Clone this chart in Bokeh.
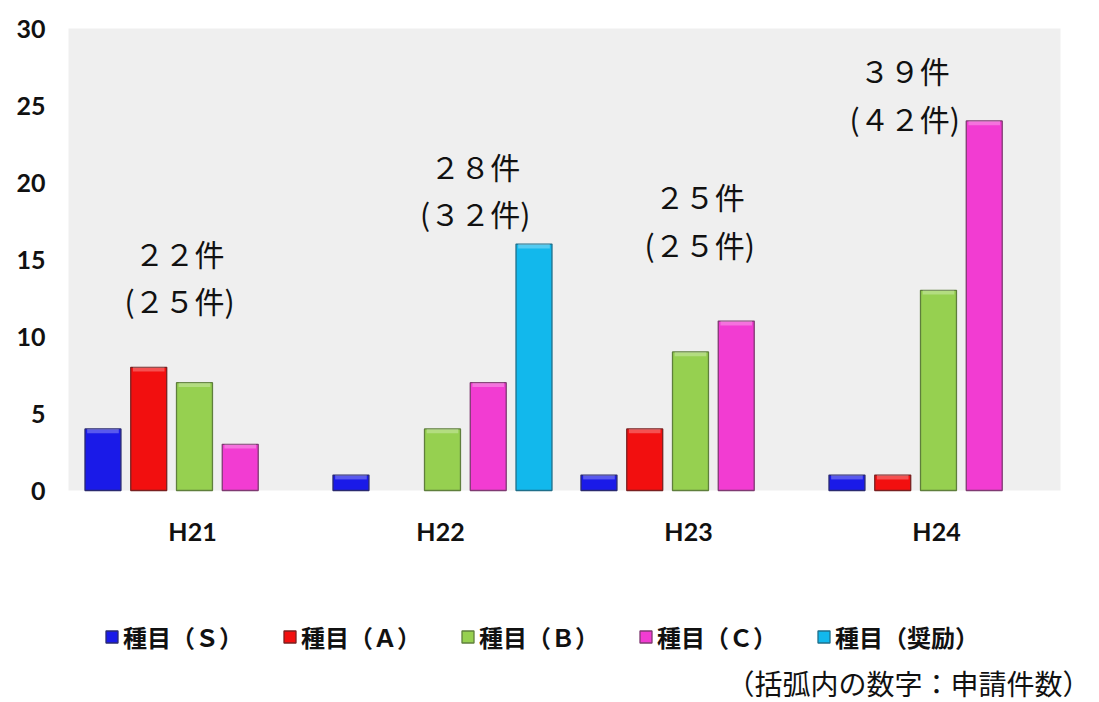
from bokeh.plotting import figure
from bokeh.models import Range1d, Legend, LegendItem, Label, ColumnDataSource
from bokeh.core.properties import value
from bokeh.embed import file_html
from bokeh.resources import INLINE

years = ["H21", "H22", "H23", "H24"]
series_names = ["種目（Ｓ）", "種目（Ａ）", "種目（Ｂ）", "種目（Ｃ）", "種目（奨励）"]
s_vals = [4, 1, 1, 1]
a_vals = [8, 0, 4, 1]
b_vals = [7, 4, 9, 13]
c_vals = [3, 7, 11, 24]
sh_vals = [0, 16, 0, 0]
adopted_labels = ["２２件", "２８件", "２５件", "３９件"]
applied_labels = ["(２５件)", "(３２件)", "(２５件)", "(４２件)"]
adopted_y = [15.45, 21.1, 19.15, 27.3]
applied_y = [12.4, 18.05, 16.0, 24.2]
y_ticks = [0, 5, 10, 15, 20, 25, 30]
note_text = "（括弧内の数字：申請件数）"

# ---- layout constants (pixels) ----
W, H = 1099, 702
FX0, FX1 = 68, 1060      # grey plot area left/right
FY_TOP, FY_BOT = 28, 490  # grey plot area top/bottom (y=30 / y=0)
n = len(years)
ymax = max(y_ticks)
px_per_x = (FX1 - FX0) / n
px_per_y = (FY_BOT - FY_TOP) / ymax
x_start = -FX0 / px_per_x
x_end = (W - FX0) / px_per_x
y_end = ymax + FY_TOP / px_per_y
y_start = -(H - FY_BOT) / px_per_y

colors = ["#1a1ae8", "#f20f0f", "#96d050", "#f23cd2", "#12b8ec"]
outlines = ["#2a2a70", "#7a2020", "#5f7f3c", "#7f3a72", "#1f6f8a"]
all_vals = [s_vals, a_vals, b_vals, c_vals, sh_vals]
slot = 0.1845
offsets = [0.008 + k * slot for k in (-2, -1, 0, 1, 2)]
bar_w = 0.145
label_dx = [-0.052, 0.14, 0.045, -0.128]

p = figure(x_range=Range1d(x_start, x_end), y_range=Range1d(y_start, y_end),
           frame_width=W, frame_height=H, min_border=0,
           output_backend="svg", toolbar_location=None)
p.axis.visible = False
p.grid.grid_line_color = None
p.outline_line_color = None
p.background_fill_color = "white"
p.border_fill_color = "white"

# grey plotting area
p.quad(left=[0], right=[n], bottom=[0], top=[ymax], fill_color="#efefef", line_color=None)

# y tick labels
p.text(x=[-23 / px_per_x] * len(y_ticks), y=y_ticks, text=[str(t) for t in y_ticks],
       text_align="right", text_baseline="middle",
       text_font=value("Lato"), text_font_style="bold", text_font_size="25px", text_color="#111111")
# x category labels
p.text(x=[i + 0.5 for i in range(n)], y=[-40 / px_per_y] * n, text=years,
       text_align="center", text_baseline="middle",
       text_font=value("Lato"), text_font_style="bold", text_font_size="25px", text_color="#111111")

items = []
for name, vals, col, oc, off in zip(series_names, all_vals, colors, outlines, offsets):
    xs = [i + 0.5 + off for i, v in enumerate(vals) if v > 0]
    tops = [v for v in vals if v > 0]
    src = ColumnDataSource(dict(x=xs, top=tops, bot=[t - 0.28 for t in tops]))
    r = p.vbar(x="x", top="top", bottom=0, width=bar_w, source=src,
               fill_color=col, line_color=oc, line_width=1.3)
    p.vbar(x="x", top="top", bottom="bot", width=bar_w * 0.88, source=src,
           fill_color="white", fill_alpha=0.28, line_color=None)
    items.append(LegendItem(label=name, renderers=[r]))

xs_lab = [i + 0.5 + d for i, d in enumerate(label_dx)]
src_t = ColumnDataSource(dict(x=xs_lab, y1=adopted_y, t1=adopted_labels, y2=applied_y, t2=applied_labels))
for yk, tk in (("y1", "t1"), ("y2", "t2")):
    p.text(x="x", y=yk, text=tk, source=src_t, text_align="center", text_baseline="middle",
           text_font=value("Noto Sans CJK JP"), text_font_size="30px", text_color="#111111")

legend = Legend(items=items, orientation="horizontal", location=(104, 48),
                glyph_width=15, glyph_height=15, label_standoff=4, spacing=39,
                label_text_font="Noto Sans CJK JP", label_text_font_style="bold",
                label_text_font_size="24px", label_text_color="#111111",
                background_fill_alpha=0, border_line_color=None, padding=0, margin=0)
p.add_layout(legend, "center")

note = Label(x=(1090 - FX0) / px_per_x, y=-(682 - FY_BOT) / px_per_y, text=note_text,
             text_align="right", text_baseline="middle",
             text_font="Noto Sans CJK JP", text_font_size="28px", text_color="#111111")
p.add_layout(note)

open("out.html", "w").write(file_html(p, INLINE))
